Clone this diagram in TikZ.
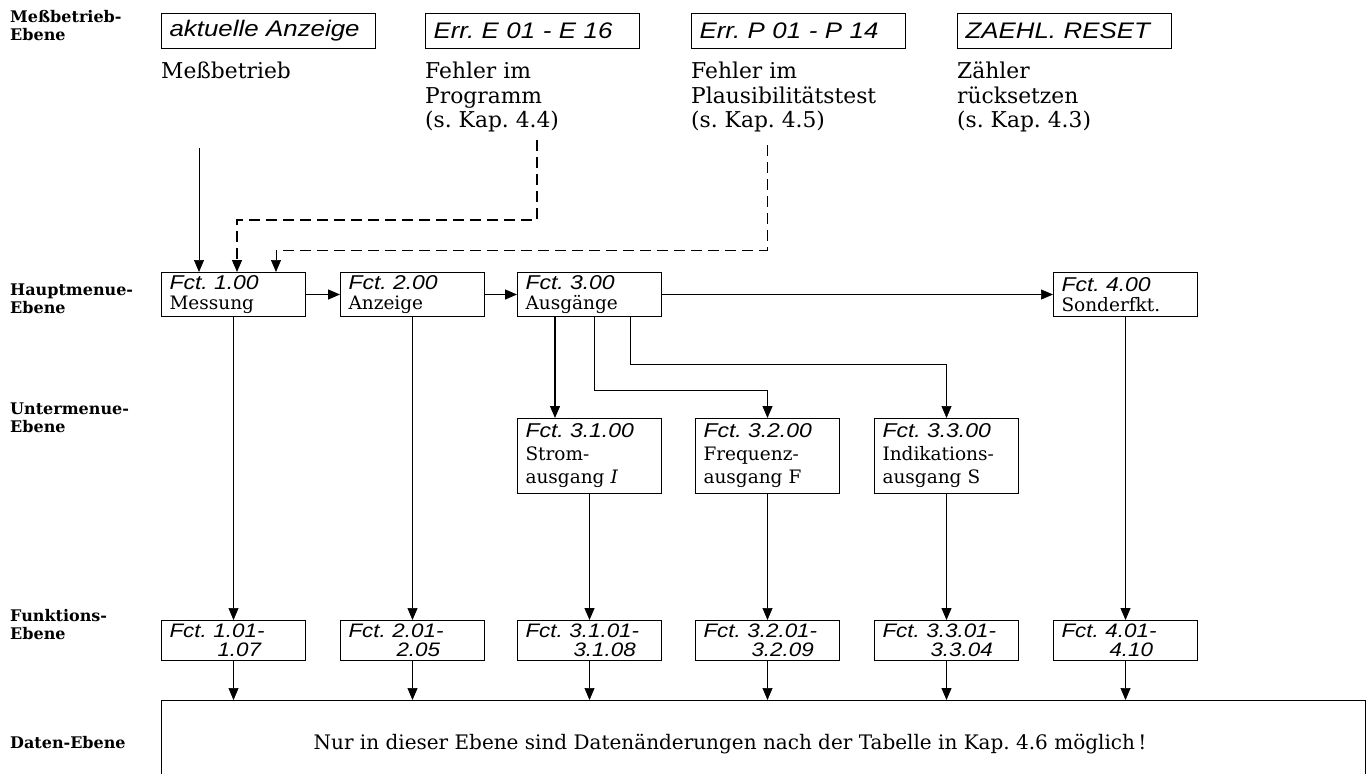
\documentclass[tikz,border=0pt]{standalone}
\usepackage{fontspec}
\setmainfont{DejaVu Serif}
\newfontfamily\lblfont{DejaVu Serif}
\newfontfamily\itfont[FakeStretch=1.15]{Liberation Sans}
\newcommand{\fctf}{\itfont\itshape\fontsize{20}{20}\selectfont}
\usetikzlibrary{arrows.meta,calc}
\frenchspacing
\begin{document}
\begin{tikzpicture}[x=1pt,y=-1pt,
  lvl/.style={anchor=north west,align=left,inner sep=0pt,font=\lblfont\bfseries\fontsize{16}{18}\selectfont},
  topbox/.style={draw,line width=1pt,anchor=north west,minimum width=214pt,minimum height=35pt,inner sep=0pt,text width=198pt,align=left,font=\itfont\itshape\fontsize{22.5}{26}\selectfont},
  desc/.style={anchor=north west,align=left,inner sep=0pt,font=\fontsize{21.8}{24.5}\selectfont},
  mbox/.style={draw,line width=1pt,anchor=north west,minimum width=144pt,minimum height=44pt,inner sep=0pt,text width=128pt,align=left,font=\fontsize{18.5}{20.5}\selectfont},
  sbox/.style={mbox,minimum height=75pt,font=\fontsize{18.5}{23}\selectfont},
  fbox/.style={mbox,minimum height=40pt,font=\itfont\itshape\fontsize{19.5}{18.5}\selectfont},
  arr/.style={-{Triangle[length=12pt,width=10pt]}},
  thin/.style={line width=0.7pt},
  thk/.style={line width=1.3pt},
  dsh/.style={line width=1pt,dash pattern=on 11pt off 6pt}
]
\useasboundingbox (0,0) rectangle (1372,773);
% level labels
\node[lvl] (l1) at (10,10) {Meßbetrieb-\\Ebene};
\node[lvl] (l2) at (10,284) {Hauptmenue-\\Ebene};
\node[lvl] (l3) at (10,403) {Untermenue-\\Ebene};
\node[lvl] (l4) at (10,609) {Funktions-\\Ebene};
\node[lvl] (l5) at (10,736) {Daten-Ebene};
% top boxes
\node[topbox] (t1) at (161,13) {aktuelle Anzeige};
\node[topbox] (t2) at (425,13) {Err. E 01 - E 16};
\node[topbox] (t3) at (691,13) {Err. P 01 - P 14};
\node[topbox] (t4) at (957,13) {ZAEHL. RESET};
\node[desc] (d1) at (161,62) {Meßbetrieb};
\node[desc] (d2) at (425,62) {Fehler im\\Programm\\(s. Kap. 4.4)};
\node[desc] (d3) at (691,62) {Fehler im\\Plausibilitätstest\\(s. Kap. 4.5)};
\node[desc] (d4) at (957,62) {Zähler\\rücksetzen\\(s. Kap. 4.3)};
% main menu
\node[mbox] (m1) at (161,272) {{\fctf Fct. 1.00}\\Messung};
\node[mbox] (m2) at (340,272) {{\fctf Fct. 2.00}\\Anzeige};
\node[mbox] (m3) at (517,272) {{\fctf Fct. 3.00}\\Ausgänge};
\node[mbox] (m4) at (1053,272) {{\fctf Fct. 4.00}\\Sonderfkt.};
% sub menu
\node[sbox] (s1) at (517,418) {{\fctf Fct. 3.1.00}\\Strom-\\ausgang \textit{I}};
\node[sbox] (s2) at (695,418) {{\fctf Fct. 3.2.00}\\Frequenz-\\ausgang F};
\node[sbox] (s3) at (874,418) {{\fctf Fct. 3.3.00}\\Indikations-\\ausgang S};
% function level
\node[fbox] (f1) at (161,620) {Fct. 1.01-\\\hspace*{48pt}1.07};
\node[fbox] (f2) at (340,620) {Fct. 2.01-\\\hspace*{48pt}2.05};
\node[fbox] (f3) at (517,620) {Fct. 3.1.01-\\\hspace*{48pt}3.1.08};
\node[fbox] (f4) at (695,620) {Fct. 3.2.01-\\\hspace*{48pt}3.2.09};
\node[fbox] (f5) at (874,620) {Fct. 3.3.01-\\\hspace*{48pt}3.3.04};
\node[fbox] (f6) at (1053,620) {Fct. 4.01-\\\hspace*{48pt}4.10};
% data level
\node[draw,line width=1pt,anchor=north west,minimum width=1204pt,minimum height=90pt,inner sep=0pt] (data) at (161,700) {};
\node[font=\fontsize{20}{24}\selectfont,inner sep=0pt] (dtxt) at (730,744) {Nur in dieser Ebene sind Datenänderungen nach der Tabelle in Kap.~4.6 möglich\,!};
% connectors top
\coordinate (c1) at (199,148);
\coordinate (c2) at (537,140);
\coordinate (c3) at (767,145);
\draw[thin,arr] (c1) -- (c1 |- m1.north);
\coordinate (b2) at (537,220);
\coordinate (e2) at (237,220);
\draw[dsh,line width=1.3pt,arr] (c2) -- (b2) -- (e2) -- (e2 |- m1.north);
\coordinate (b3) at (767,250);
\coordinate (e3) at (276,250);
\draw[dsh,thin,arr] (c3) -- (b3) -- (e3) -- (e3 |- m1.north);
% main row
\draw[thk,arr] (m1.east) -- (m2.west);
\draw[thk,arr] (m2.east) -- (m3.west);
\draw[thin,arr] (m3.east) -- (m4.west);
% from 3.00
\coordinate (o1) at (555,0);
\coordinate (o2) at (594,0);
\coordinate (o3) at (630,0);
\draw[thk,arr] (o1 |- m3.south) -- (o1 |- s1.north);
\draw[line width=1pt,arr] (o2 |- m3.south) -- (594,390) -| (s2.north);
\draw[thin,arr] (o3 |- m3.south) -- (630,364) -| (s3.north);
% down
\draw[thin,arr] (m1.south) -- (f1.north);
\draw[thin,arr] (m2.south) -- (f2.north);
\draw[thk,arr] (s1.south) -- (f3.north);
\draw[thin,arr] (s2.south) -- (f4.north);
\draw[line width=1pt,arr] (s3.south) -- (f5.north);
\draw[line width=1pt,arr] (m4.south) -- (f6.north);
\draw[thin,arr] (f1.south) -- (f1.south |- data.north);
\draw[thin,arr] (f2.south) -- (f2.south |- data.north);
\draw[thin,arr] (f3.south) -- (f3.south |- data.north);
\draw[thin,arr] (f4.south) -- (f4.south |- data.north);
\draw[line width=1pt,arr] (f5.south) -- (f5.south |- data.north);
\draw[thin,arr] (f6.south) -- (f6.south |- data.north);
\end{tikzpicture}
\end{document}
